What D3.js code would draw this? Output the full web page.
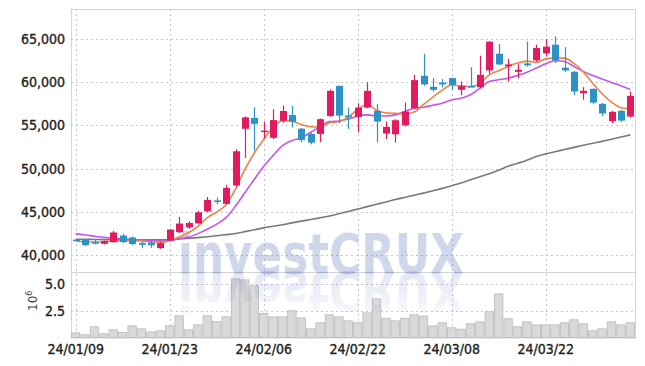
<!DOCTYPE html>
<html lang="en">
<head>
<meta charset="UTF-8">
<script src="https://d3js.org/d3.v7.min.js"></script>
<style>
  body { margin: 0; background: #fff; }
  .tick-label { font: 14px "Liberation Sans Narrow", "DejaVu Sans Condensed", sans-serif; fill: #222; stroke: #222; stroke-width: 0.35px; }
</style>
</head>
<body>
<svg width="645" height="366"></svg>
<script>
// trading days shown on the chart
var dates = ["2024-01-09","2024-01-10","2024-01-11","2024-01-12","2024-01-15","2024-01-16","2024-01-17","2024-01-18","2024-01-19","2024-01-22",
  "2024-01-23","2024-01-24","2024-01-25","2024-01-26","2024-01-29","2024-01-30","2024-01-31","2024-02-01","2024-02-02","2024-02-05",
  "2024-02-06","2024-02-07","2024-02-08","2024-02-13","2024-02-14","2024-02-15","2024-02-16","2024-02-19","2024-02-20","2024-02-21",
  "2024-02-22","2024-02-23","2024-02-26","2024-02-27","2024-02-28","2024-02-29","2024-03-04","2024-03-05","2024-03-06","2024-03-07",
  "2024-03-08","2024-03-11","2024-03-12","2024-03-13","2024-03-14","2024-03-15","2024-03-18","2024-03-19","2024-03-20","2024-03-21",
  "2024-03-22","2024-03-25","2024-03-26","2024-03-27","2024-03-28","2024-03-29","2024-04-01","2024-04-02","2024-04-03","2024-04-04"];

var open  = [41750,41750,41450,41270,41460,42230,42000,41350,41420,40770, 41650,42620,43170,43640,45040,46300,45900,48030,54610,55860,
             54250,53560,55540,56200,54620,54000,54010,56100,59590,56150, 55990,57070,56690,54050,53970,55020,56990,60760,59480,59980,
             60480,59130,59560,59440,61380,63310,61850,61220,62190,62540, 63350,64360,61690,61220,58740,59240,57500,55480,56690,56030];
var high  = [41800,41850,41850,41650,42770,42460,42120,41500,41580,41450, 43000,44380,43900,45100,46700,46630,48100,52240,56050,57100,
             55430,56870,57300,57260,54700,54150,55800,59170,59600,57070, 57580,59980,57460,55450,55720,57660,60870,63310,60480,60370,
             60550,60100,61760,63080,64750,64440,62730,62110,64750,64360, 65020,65330,64090,61300,59440,59300,57600,56700,56800,58930];
var low   = [41600,41050,41200,41200,41400,41350,41150,40800,40800,40700, 41600,42500,43000,43600,44950,45860,45850,47900,51230,52080,
             53480,53400,55300,54770,53040,52800,53050,55990,55250,54590, 54200,57000,53040,53430,53000,54900,56900,59600,58900,59400,
             59130,58510,59440,59300,60990,62000,60060,60480,61800,62400, 63000,62230,61200,58510,57970,57500,56070,55250,55400,55900];
var close = [41650,41100,41350,41580,42580,41460,41230,41150,41100,41350, 42920,43620,43680,44920,46360,46200,47760,52000,55930,55190,
             54400,55620,56670,55430,53300,53000,55720,59010,56140,55950, 57070,59010,55450,54830,55600,56610,60250,59750,59130,59750,
             59710,59550,59480,60870,64710,62070,62070,61450,61960,63970, 64130,62540,61380,58930,59010,57650,56380,56570,55560,58430];

// volume, millions of shares
var volume = [0.43,0.25,0.99,0.34,0.71,0.46,1.08,0.80,0.52,0.62, 1.08,2.01,0.71,1.17,2.01,1.48,1.91,5.43,5.34,4.78,
              2.22,1.91,1.91,2.47,1.82,0.80,1.36,2.10,1.91,1.54, 1.36,2.28,3.58,1.79,1.54,1.79,2.10,1.98,1.08,1.36,
              0.90,0.77,1.27,1.45,2.38,4.04,1.73,0.99,1.45,1.17, 1.17,1.17,1.36,1.64,1.27,0.62,0.80,1.45,1.17,1.36];

// moving average lines
var maShort = [41620,41500,41480,41500,41600,41620,41640,41600,41500,41420, 41650,42050,42550,43300,44300,44950,45800,47600,49900,51800,
               53400,54800,55550,55480,55100,54850,54820,55300,55450,55950, 56850,57450,56750,56450,56400,56320,56560,57420,58270,59100,
               59700,59580,59520,59880,60870,61340,61840,62230,62450,62320, 62720,62810,62800,62190,61200,59900,58670,57710,57040,56920];
var maMid   = [42420,42300,42150,42020,41920,41840,41770,41700,41640,41580, 41650,41850,42050,42450,42950,43550,44300,45650,47200,48750,
               50250,51500,52650,53250,53550,54200,54850,55450,55520,55760, 56070,56220,56100,56100,56220,56610,57000,57110,57340,57580,
               57970,58160,58550,59320,60100,60290,60480,60790,61160,61650, 62150,62500,62420,61840,61260,60790,60370,59980,59590,59150];
var maLong  = [41800,41790,41770,41750,41740,41730,41720,41720,41720,41730, 41760,41820,41900,41990,42090,42200,42330,42470,42680,42900,
               43120,43300,43480,43700,43900,44080,44280,44500,44760,45020, 45300,45580,45850,46120,46400,46650,46900,47150,47420,47700,
               48000,48330,48700,49050,49400,49800,50250,50600,50950,51400, 51700,51950,52200,52450,52700,52930,53150,53400,53650,53900];

var priceTicks = [40000,45000,50000,55000,60000,65000];
var volTicks = [2.5,5.0];
var dateTicks = ["2024-01-09","2024-01-23","2024-02-06","2024-02-22","2024-03-08","2024-03-22"];
var dateLabels = ["24/01/09","24/01/23","24/02/06","24/02/22","24/03/08","24/03/22"];

var upColor = "#e21a5f", downColor = "#2b93c5";

var svg = d3.select("svg");
var plotLeft = 71, plotRight = 635, plotTop = 9, plotSplit = 272, plotBottom = 337.5;

var x = d3.scaleBand().domain(dates).range([plotLeft, plotRight]).padding(0);
var cx = function(d) { return x(d) + x.bandwidth() / 2; };
var y = d3.scaleLinear().domain([38000, 68500]).range([plotSplit, plotTop]);
var yv = d3.scaleLinear().domain([0, 6.07]).range([plotBottom, plotSplit]);

var rows = dates.map(function(d, i) {
  return {date: d, o: open[i], h: high[i], l: low[i], c: close[i], v: volume[i]};
});

// frame
svg.append("rect").attr("x", plotLeft + 0.5).attr("y", plotTop + 0.5).attr("width", plotRight - plotLeft).attr("height", plotBottom - plotTop)
  .attr("fill", "none").attr("stroke", "#d4d4d8");
svg.append("line").attr("x1", plotLeft).attr("x2", plotRight).attr("y1", plotSplit + 0.5).attr("y2", plotSplit + 0.5).attr("stroke", "#d4d4d8");

var grid = svg.append("g").attr("stroke", "#c4c6d8").attr("stroke-dasharray", "2,3");
grid.selectAll(".hp").data(priceTicks).enter().append("line")
  .attr("x1", plotLeft).attr("x2", plotRight).attr("y1", function(d) { return Math.round(y(d)) + 0.5; }).attr("y2", function(d) { return Math.round(y(d)) + 0.5; });
grid.selectAll(".hv").data(volTicks).enter().append("line")
  .attr("x1", plotLeft).attr("x2", plotRight).attr("y1", function(d) { return Math.round(yv(d)) + 0.5; }).attr("y2", function(d) { return Math.round(yv(d)) + 0.5; });
grid.selectAll(".vx").data(dateTicks).enter().append("line")
  .attr("x1", function(d) { return Math.round(cx(d)) + 0.5; }).attr("x2", function(d) { return Math.round(cx(d)) + 0.5; })
  .attr("y1", plotTop).attr("y2", plotBottom);

// volume bars
svg.append("g").selectAll("rect").data(rows).enter().append("rect")
  .attr("x", function(d) { return x(d.date) + 0.5; })
  .attr("width", x.bandwidth() - 1)
  .attr("y", function(d) { return yv(d.v); })
  .attr("height", function(d) { return plotBottom - yv(d.v); })
  .attr("fill", "#d9d9d9").attr("stroke", "#b9b9b9").attr("stroke-width", 0.8);

// watermark and its reflection
var defs = svg.append("defs");
var grad = defs.append("linearGradient").attr("id", "fade").attr("x1", 0).attr("x2", 0).attr("y1", 0).attr("y2", 1);
grad.append("stop").attr("offset", "0%").attr("stop-color", "#5a6eb4").attr("stop-opacity", 0.02);
grad.append("stop").attr("offset", "100%").attr("stop-color", "#5a6eb4").attr("stop-opacity", 0.2);

var wm = svg.append("g").attr("font-family", "'Liberation Sans Narrow', 'DejaVu Sans Condensed', sans-serif")
  .attr("font-weight", "bold").attr("font-size", 55);
wm.append("text").attr("x", 178).attr("y", 273).attr("textLength", 286).attr("lengthAdjust", "spacingAndGlyphs")
  .attr("fill", "#5a6eb4").attr("fill-opacity", 0.28).text("investCRUX");
wm.append("text").attr("x", 178).attr("y", -272).attr("transform", "scale(1,-1)")
  .attr("textLength", 286).attr("lengthAdjust", "spacingAndGlyphs")
  .attr("fill", "url(#fade)").text("investCRUX");

// moving averages
var line = function(vals) {
  return d3.line().x(function(d, i) { return cx(dates[i]); }).y(function(d) { return y(d); }).curve(d3.curveMonotoneX)(vals);
};
svg.append("path").attr("d", line(maLong)).attr("fill", "none").attr("stroke", "#7a7a7a").attr("stroke-width", 1.6);
svg.append("path").attr("d", line(maMid)).attr("fill", "none").attr("stroke", "#c752ee").attr("stroke-width", 1.6);
svg.append("path").attr("d", line(maShort)).attr("fill", "none").attr("stroke", "#ee8346").attr("stroke-width", 1.6);

// candles
var candle = svg.append("g").selectAll("g").data(rows).enter().append("g");
candle.append("line")
  .attr("x1", function(d) { return Math.round(cx(d.date)) + 0.5; }).attr("x2", function(d) { return Math.round(cx(d.date)) + 0.5; })
  .attr("y1", function(d) { return y(d.h); }).attr("y2", function(d) { return y(d.l); })
  .attr("stroke", function(d) { return d.c >= d.o ? upColor : downColor; }).attr("stroke-width", 1.2);
candle.append("rect")
  .attr("x", function(d) { return Math.round(cx(d.date)) - 3; })
  .attr("width", 7)
  .attr("y", function(d) { return y(Math.max(d.o, d.c)); })
  .attr("height", function(d) { return Math.max(1.5, Math.abs(y(d.o) - y(d.c))); })
  .attr("fill", function(d) { return d.c >= d.o ? upColor : downColor; });

// axes labels
svg.append("g").selectAll("text").data(priceTicks).enter().append("text")
  .attr("class", "tick-label").attr("x", 65).attr("y", function(d) { return y(d); }).attr("dy", "0.36em")
  .attr("text-anchor", "end").text(d3.format(","));
svg.append("g").selectAll("text").data(volTicks).enter().append("text")
  .attr("class", "tick-label").attr("x", 65).attr("y", function(d) { return yv(d); }).attr("dy", "0.36em")
  .attr("text-anchor", "end").text(d3.format(".1f"));
svg.append("g").selectAll("text").data(dateTicks).enter().append("text")
  .attr("class", "tick-label").attr("x", function(d) { return cx(d); }).attr("y", 354)
  .attr("text-anchor", "middle").text(function(d, i) { return dateLabels[i]; });

var unit = svg.append("text").attr("transform", "translate(37,311) rotate(-90)")
  .attr("font-family", "'DejaVu Sans', sans-serif").attr("font-size", 12).attr("fill", "#444");
unit.append("tspan").text("10");
unit.append("tspan").attr("dy", -5).attr("font-size", 8).text("6");
</script>
</body>
</html>
